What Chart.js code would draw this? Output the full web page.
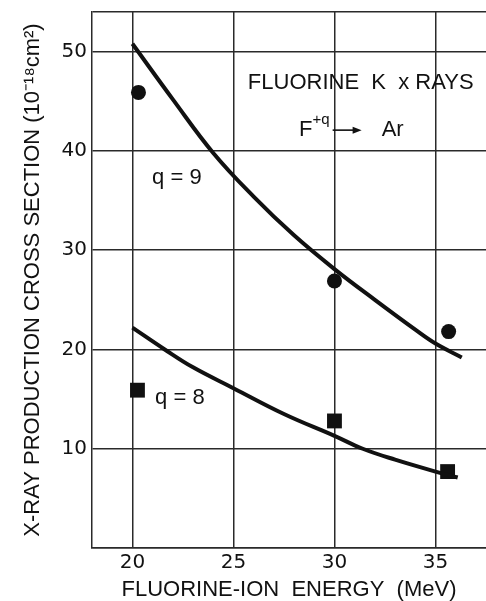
<!DOCTYPE html>
<html>
<head>
<meta charset="utf-8">
<script src="https://cdn.jsdelivr.net/npm/chart.js@4.4.1/dist/chart.umd.min.js"></script>
<style>
    html, body { margin: 0; padding: 0; background: #fff; }
    #wrap { width: 486px; height: 601px; }
</style>
</head>
<body>
<div id="wrap"><canvas id="xray-chart"></canvas></div>
<script>
// Measured points (circles q=9, squares q=8)
const energyQ9 = [20.3, 30.0, 35.65];
const sigmaQ9 = [45.9, 26.9, 21.8];
const energyQ8 = [20.25, 30.0, 35.6];
const sigmaQ8 = [15.9, 12.8, 7.7];

// Smooth curves
const fitEnergyQ9 = [20, 22, 24, 26, 28, 30, 32, 34, 35, 36.3];
const fitSigmaQ9 = [50.8, 45.2, 39.8, 35.4, 31.5, 28.1, 25.0, 22.0, 20.6, 19.2];
const fitEnergyQ8 = [20, 21.6, 23, 25, 27.5, 30, 31.4, 33, 35, 36.1];
const fitSigmaQ8 = [22.2, 20.0, 18.2, 16.1, 13.5, 11.3, 10.0, 8.9, 7.7, 7.1];

// Axis ticks
const xTicks = [20, 25, 30, 35];
const yTicks = [0, 10, 20, 30, 40, 50, 54];
const yLabelled = [10, 20, 30, 40, 50];

const ink = '#111';
const gridInk = '#2a2a2a';
const textFont = '"Liberation Sans", Arial, sans-serif';

const toPoints = (xs, ys) => xs.map((x, i) => ({ x, y: ys[i] }));

// Keep the plot frame where the figure has it
const noEdgePadding = (scale) => {
    scale.paddingLeft = 0;
    scale.paddingRight = 0;
    scale.paddingTop = 0;
    scale.paddingBottom = 0;
};

// Text labels inside the plot, placed in data units
const labelPlugin = {
    id: 'labels',
    afterDatasetsDraw(chart) {
        const { ctx, scales: { x, y } } = chart;
        ctx.save();
        ctx.fillStyle = ink;
        ctx.strokeStyle = ink;
        ctx.textBaseline = 'middle';
        ctx.font = '22px ' + textFont;

        ctx.textAlign = 'center';
        ctx.fillText('FLUORINE  K  x RAYS', x.getPixelForValue(31.3), y.getPixelForValue(46.9));
        ctx.fillText('q = 9', x.getPixelForValue(22.2), y.getPixelForValue(37.3));
        ctx.fillText('q = 8', x.getPixelForValue(22.35), y.getPixelForValue(15.1));

        // F^{+q} ---> Ar
        let px = x.getPixelForValue(28.25);
        const py = y.getPixelForValue(42.3);
        ctx.textAlign = 'left';
        ctx.fillText('F', px, py + 2);
        px += ctx.measureText('F').width;
        ctx.font = '15px ' + textFont;
        ctx.fillText('+q', px, py - 8);
        px += ctx.measureText('+q').width + 3;
        ctx.lineWidth = 1.6;
        ctx.beginPath();
        ctx.moveTo(px, py + 2);
        ctx.lineTo(px + 22, py + 2);
        ctx.stroke();
        ctx.beginPath();
        ctx.moveTo(px + 29, py + 2);
        ctx.lineTo(px + 20, py - 1.5);
        ctx.lineTo(px + 20, py + 5.5);
        ctx.closePath();
        ctx.fill();
        ctx.font = '22px ' + textFont;
        ctx.fillText('Ar', px + 49, py + 2);
        ctx.restore();
    }
};

const ctx = document.getElementById('xray-chart').getContext('2d');
const xrayChart = new Chart(ctx, {
    type: 'scatter',
    data: {
        datasets: [
            {
                type: 'line',
                label: 'q=9 curve',
                data: toPoints(fitEnergyQ9, fitSigmaQ9),
                borderColor: ink,
                borderWidth: 4,
                pointRadius: 0,
                tension: 0.4,
                fill: false,
            },
            {
                type: 'line',
                label: 'q=8 curve',
                data: toPoints(fitEnergyQ8, fitSigmaQ8),
                borderColor: ink,
                borderWidth: 4,
                pointRadius: 0,
                tension: 0.4,
                fill: false,
            },
            {
                label: 'q=9',
                data: toPoints(energyQ9, sigmaQ9),
                pointStyle: 'circle',
                pointRadius: 7.5,
                backgroundColor: ink,
                borderColor: ink,
                borderWidth: 0,
            },
            {
                label: 'q=8',
                data: toPoints(energyQ8, sigmaQ8),
                pointStyle: 'rect',
                pointRadius: 10.5,
                backgroundColor: ink,
                borderColor: ink,
                borderWidth: 0,
            },
        ],
    },
    options: {
        responsive: true,
        maintainAspectRatio: false,
        animation: false,
        layout: { autoPadding: false, padding: { left: 10, top: 12, right: 0, bottom: 0 } },
        plugins: {
            legend: { display: false },
            tooltip: { enabled: false },
        },
        scales: {
            x: {
                type: 'linear',
                min: 18,
                max: 37.5,
                afterBuildTicks: (scale) => { scale.ticks = xTicks.map(v => ({ value: v })); },
                afterFit: (scale) => { scale.height = 53; noEdgePadding(scale); },
                grid: { color: gridInk, lineWidth: 1.5, drawTicks: false },
                border: { color: gridInk, width: 1.5 },
                ticks: {
                    color: ink,
                    padding: 3,
                    maxRotation: 0,
                    font: { family: '"DejaVu Sans", sans-serif', size: 20 },
                },
                title: {
                    display: true,
                    text: 'FLUORINE-ION  ENERGY  (MeV)',
                    color: ink,
                    font: { family: textFont, size: 22, lineHeight: 1 },
                    padding: { top: 2, bottom: 0 },
                },
            },
            y: {
                type: 'linear',
                min: 0,
                max: 54,
                afterBuildTicks: (scale) => { scale.ticks = yTicks.map(v => ({ value: v })); },
                afterFit: (scale) => { scale.width = 82; noEdgePadding(scale); },
                grid: { color: gridInk, lineWidth: 1.5, drawTicks: false },
                border: { color: gridInk, width: 1.5 },
                ticks: {
                    color: ink,
                    padding: 5,
                    font: { family: '"DejaVu Sans", sans-serif', size: 20 },
                    callback: (v) => yLabelled.includes(v) ? String(v) : '',
                },
                title: {
                    display: true,
                    text: 'X-RAY PRODUCTION CROSS SECTION (10\u207B\u00B9\u2078cm\u00B2)',
                    color: ink,
                    font: { family: textFont, size: 22 },
                    padding: { top: 10, bottom: 15 },
                },
            },
        },
    },
    plugins: [labelPlugin],
});
</script>
</body>
</html>
